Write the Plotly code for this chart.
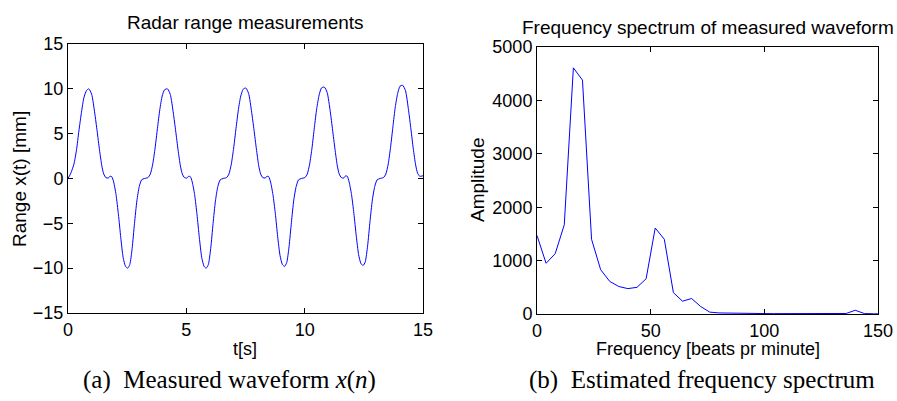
import plotly.graph_objects as go

W, H = 897, 401

# ---- Data: radar range waveform ----
t_s = [0.00, 0.12, 0.25, 0.36, 0.46, 0.57, 0.67, 0.78,
       0.88, 1.00, 1.13, 1.23, 1.33, 1.43, 1.51, 1.60, 1.70, 1.78, 1.85, 1.93, 2.03, 2.13, 2.23, 2.33, 2.43,
       2.52, 2.61, 2.71, 2.81, 2.91, 3.01, 3.11, 3.23, 3.38, 3.48, 3.58, 3.68, 3.78, 3.88, 3.98, 4.08,
       4.20, 4.32, 4.45, 4.55, 4.65, 4.75, 4.83, 4.92, 5.02, 5.10, 5.17, 5.25, 5.35, 5.45, 5.55, 5.65, 5.75,
       5.84, 5.93, 6.03, 6.13, 6.23, 6.33, 6.43, 6.55, 6.70, 6.80, 6.90, 7.00, 7.10, 7.20, 7.30, 7.40,
       7.51, 7.63, 7.76, 7.86, 7.96, 8.06, 8.14, 8.23, 8.33, 8.41, 8.48, 8.56, 8.66, 8.76, 8.86, 8.96, 9.06,
       9.15, 9.24, 9.34, 9.44, 9.54, 9.64, 9.74, 9.86, 10.01, 10.11, 10.21, 10.31, 10.41, 10.51, 10.61, 10.71,
       10.83, 10.95, 11.08, 11.18, 11.28, 11.38, 11.46, 11.55, 11.65, 11.73, 11.80, 11.88, 11.98, 12.08, 12.18, 12.28, 12.38,
       12.47, 12.56, 12.66, 12.76, 12.86, 12.96, 13.06, 13.18, 13.33, 13.43, 13.53, 13.63, 13.73, 13.83, 13.93, 14.03,
       14.14, 14.26, 14.39, 14.49, 14.59, 14.69, 14.77, 14.86, 15.00]
range_mm = [0.0, 0.6, 1.6, 3.2, 5.3, 7.4, 9.0, 9.8,
            10.0, 9.4, 7.3, 5.3, 3.2, 1.4, 0.5, 0.1, 0.05, 0.25, 0.2, -0.4, -1.8, -4.0, -6.6, -8.8, -9.8,
            -10.0, -9.6, -7.8, -5.0, -2.5, -0.9, -0.15, 0.0, 0.1, 0.5, 1.6, 3.4, 5.6, 7.7, 9.2, 9.9,
            10.0, 9.4, 7.3, 5.3, 3.2, 1.4, 0.5, 0.1, 0.05, 0.25, 0.2, -0.4, -1.8, -4.0, -6.6, -8.8, -9.8,
            -10.0, -9.6, -7.8, -5.0, -2.5, -0.9, -0.15, 0.0, 0.1, 0.5, 1.6, 3.4, 5.6, 7.7, 9.2, 9.95,
            10.1, 9.5, 7.4, 5.4, 3.3, 1.4, 0.5, 0.1, 0.05, 0.25, 0.2, -0.4, -1.8, -3.9, -6.5, -8.6, -9.6,
            -9.8, -9.4, -7.6, -4.9, -2.4, -0.9, -0.15, 0.0, 0.1, 0.5, 1.6, 3.4, 5.7, 7.8, 9.3, 10.1,
            10.2, 9.6, 7.5, 5.4, 3.3, 1.4, 0.5, 0.1, 0.05, 0.3, 0.25, -0.4, -1.8, -3.9, -6.4, -8.5, -9.5,
            -9.7, -9.3, -7.5, -4.8, -2.4, -0.9, -0.15, 0.0, 0.1, 0.5, 1.6, 3.5, 5.8, 8.0, 9.5, 10.3,
            10.4, 9.8, 7.6, 5.5, 3.3, 1.5, 0.6, 0.25, 0.3]

# ---- Data: frequency spectrum ----
freq_bpm = [0, 4, 8, 12, 16, 20, 24, 28, 32, 36, 40, 44, 48, 52, 56, 60, 64, 68, 72, 76,
            80, 84, 88, 92, 96, 100, 104, 108, 112, 116, 120, 124, 128, 132, 136, 140, 144, 148, 152]
amplitude = [1470, 950, 1130, 1670, 4610, 4380, 1400, 830, 610, 515, 475, 500, 660, 1610, 1400, 400, 240, 290, 140, 35,
             20, 15, 12, 10, 8, 8, 7, 6, 6, 5, 5, 5, 5, 6, 10, 70, 8, 4, 3]

left_xticks = [0, 5, 10, 15]
left_yticks = [-15, -10, -5, 0, 5, 10, 15]
right_xticks = [0, 50, 100, 150]
right_yticks = [0, 1000, 2000, 3000, 4000, 5000]

SANS = "Liberation Sans, Arial, sans-serif"
SERIF = "Liberation Serif, Times New Roman, serif"

def px(x):
    return x / W

def py(y):
    return 1 - y / H

fig = go.Figure()
fig.add_trace(go.Scatter(x=t_s, y=range_mm, mode="lines", xaxis="x", yaxis="y",
                         line=dict(color="#0000ff", width=1, shape="spline", smoothing=0.6),
                         showlegend=False, hoverinfo="skip"))
fig.add_trace(go.Scatter(x=freq_bpm, y=amplitude, mode="lines", xaxis="x2", yaxis="y2",
                         line=dict(color="#0000ff", width=1),
                         showlegend=False, hoverinfo="skip", cliponaxis=True))

axis_common = dict(showline=True, linecolor="black", linewidth=1, mirror="ticks",
                   ticks="inside", ticklen=5, tickcolor="black", tickwidth=1,
                   showgrid=False, zeroline=False, automargin=False,
                   tickfont=dict(family=SANS, size=18, color="black"))

fig.update_layout(
    width=W, height=H, autosize=False,
    margin=dict(l=0, r=0, t=0, b=0, pad=0),
    paper_bgcolor="white", plot_bgcolor="white",
    xaxis=dict(domain=[px(68), px(423)], range=[0, 15], tickvals=left_xticks, anchor="y", **axis_common),
    yaxis=dict(domain=[py(313), py(44)], range=[-15, 15], tickvals=left_yticks, anchor="x", **axis_common),
    xaxis2=dict(domain=[px(537), px(878)], range=[0, 150], tickvals=right_xticks, anchor="y2", **axis_common),
    yaxis2=dict(domain=[py(314), py(47)], range=[0, 5000], tickvals=right_yticks, anchor="x2", **axis_common),
)

ann = []
def text(x, y, s, size=19, family=SANS, angle=0):
    ann.append(dict(x=px(x), y=py(y), xref="paper", yref="paper", text=s, showarrow=False,
                    xanchor="center", yanchor="middle", textangle=angle,
                    font=dict(family=family, size=size, color="black")))

text(245, 23, "Radar range measurements")
text(708, 27, "Frequency spectrum of measured waveform")
text(245, 349, "t[s]", size=18)
text(708, 349, "Frequency [beats pr minute]", size=18)
text(19, 179, "Range x(t) [mm]", angle=-90)
text(477, 180, "Amplitude", angle=-90)
text(229, 380, "(a)  Measured waveform <i>x</i>(<i>n</i>)", size=25, family=SERIF)
text(702, 380, "(b)  Estimated frequency spectrum", size=25, family=SERIF)

fig.update_layout(annotations=ann)
fig.write_html("out.html")
